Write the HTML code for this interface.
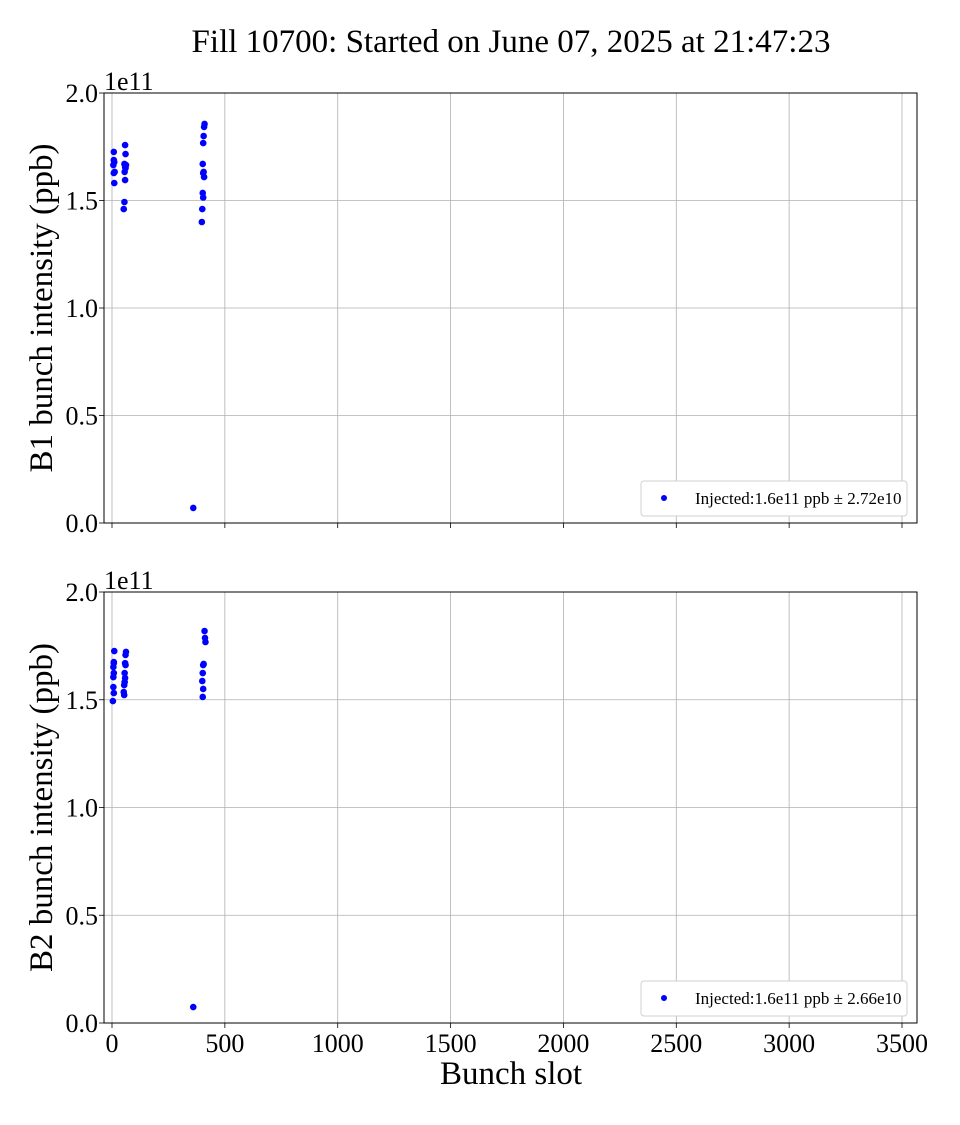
<!DOCTYPE html>
<html><head><meta charset="utf-8"><style>
html,body{margin:0;padding:0;background:#fff;}
svg text{font-family:"Liberation Serif",serif;fill:#000;}
</style></head><body>
<svg id="chart" width="960" height="1120" viewBox="0 0 960 1120" xmlns="http://www.w3.org/2000/svg">
<text x="511" y="52" font-size="33" text-anchor="middle">Fill 10700: Started on June 07, 2025 at 21:47:23</text>
</svg>
<script>
const xTicks=[0,500,1000,1500,2000,2500,3000,3500];
const yTicks=[0,0.5,1.0,1.5,2.0];
const yTickLabels=["0.0","0.5","1.0","1.5","2.0"];
const b1Slots=[8,8,10,6,12,8,10, 58,60,55,62,58,60,56,58,55,52, 410,408,406,404,402,406,404,408,402,404,400,398, 360];
const b1Values=[1.726,1.688,1.679,1.665,1.633,1.628,1.581, 1.758,1.716,1.670,1.665,1.656,1.651,1.633,1.595,1.493,1.460, 1.856,1.842,1.800,1.767,1.670,1.633,1.628,1.609,1.535,1.514,1.460,1.400, 0.07];
const b2Slots=[10,8,8,6,8,6,6,8,4, 62,60,58,60,56,58,56,54,52,54, 410,412,414,406,404,402,400,404,402, 360];
const b2Values=[1.726,1.675,1.670,1.652,1.624,1.605,1.559,1.531,1.494, 1.722,1.708,1.670,1.661,1.624,1.601,1.582,1.568,1.536,1.522, 1.819,1.787,1.768,1.666,1.661,1.624,1.587,1.550,1.513, 0.074];
const legendLabels=["Injected:1.6e11 ppb \u00b1 2.72e10","Injected:1.6e11 ppb \u00b1 2.66e10"];
const yLabels=["B1 bunch intensity (ppb)","B2 bunch intensity (ppb)"];

const NS="http://www.w3.org/2000/svg";
const svg=document.getElementById('chart');
function mk(tag,attrs,parent){const e=document.createElementNS(NS,tag);for(const k in attrs)e.setAttribute(k,attrs[k]);(parent||svg).appendChild(e);return e;}
const L=104,R=917;
const xS=v=>112+v*(902-112)/3500;
function panel(idx,top,bottom,slots,vals,showX){
  const yS=v=>bottom-v*(bottom-top)/2.0;
  const g=mk('g',{});
  
  
  xTicks.forEach(t=>{
    const l=mk('line',{x1:xS(t),x2:xS(t),y1:top,y2:bottom,stroke:'#b0b0b0','stroke-width':0.8},g);
    
    const tk=mk('line',{x1:xS(t),x2:xS(t),y1:bottom,y2:bottom+5,stroke:'#000','stroke-width':0.8},g);
    
    if(showX){const tx=mk('text',{x:xS(t),y:bottom+29,'font-size':26,'text-anchor':'middle'},g);tx.textContent=t;
      }
  });
  yTicks.forEach((t,i)=>{
    const l=mk('line',{x1:L,x2:R,y1:yS(t),y2:yS(t),stroke:'#b0b0b0','stroke-width':0.8},g);
    
    const tk=mk('line',{x1:L-5,x2:L,y1:yS(t),y2:yS(t),stroke:'#000','stroke-width':0.8},g);
    
    const tx=mk('text',{x:L-6,y:yS(t)+9,'font-size':26,'text-anchor':'end'},g);tx.textContent=yTickLabels[i];
    
  });
  const fr=mk('rect',{x:L,y:top,width:R-L,height:bottom-top,fill:'none',stroke:'#000','stroke-width':1},g);
  
  const off=mk('text',{x:L,y:top-3,'font-size':26},g);off.textContent='1e11';
  
  const yl=mk('text',{x:0,y:0,'font-size':33,'text-anchor':'middle',transform:`translate(52,${(top+bottom)/2}) rotate(-90)`},g);
  yl.textContent=yLabels[idx];
  
  slots.forEach((s,i)=>{
    const c=mk('circle',{cx:xS(s),cy:yS(vals[i]),r:3.3,fill:'#0000ff'},g);
    
  });
  const lg=mk('g',{},g);
  
  mk('rect',{x:641,y:bottom-42,width:266,height:35,rx:3,fill:'#fff',stroke:'#d0d0d0','stroke-width':1},lg);
  const lc=mk('circle',{cx:664,cy:bottom-25,r:3,fill:'#0000ff'},lg);
  
  const lt=mk('text',{x:695,y:bottom-19,'font-size':17},lg);lt.textContent=legendLabels[idx];
  
}
panel(0,93,523,b1Slots,b1Values,false);
panel(1,592,1023,b2Slots,b2Values,true);
const xt=mk('text',{x:511,y:1084,'font-size':33,'text-anchor':'middle'});
xt.textContent='Bunch slot';


</script>
</body></html>
